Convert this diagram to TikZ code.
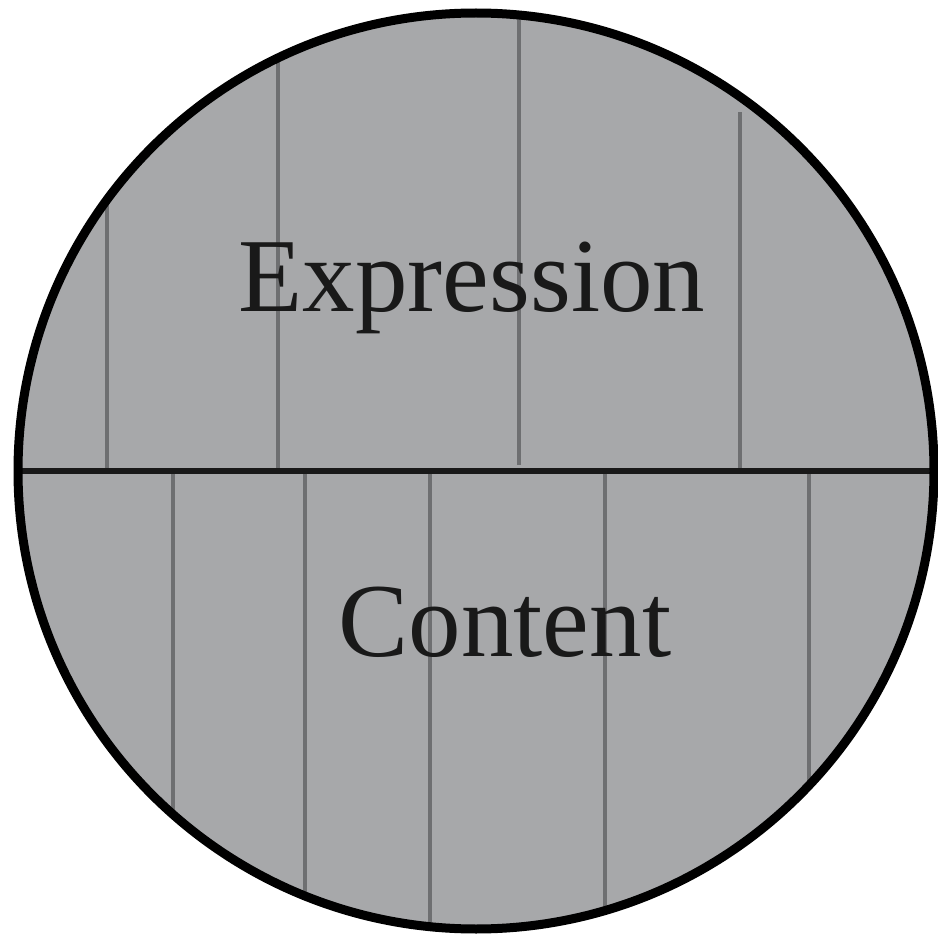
\documentclass[tikz,border=0pt]{standalone}
\usepackage{fontspec}
\setmainfont{Liberation Serif}
\definecolor{discfill}{HTML}{A7A8AA}
\definecolor{divline}{HTML}{6E6F71}
\begin{document}
\begin{tikzpicture}[x=1pt,y=-1pt,
  rim/.style={line width=9pt,draw=black},
  divider/.style={line width=3.5pt,draw=divline},
  midline/.style={line width=6pt,draw=black!90},
  lbl/.style={font=\fontsize{105}{112}\selectfont,text=black!90,inner sep=0pt,anchor=base}]
\useasboundingbox (0,0) rectangle (938,936);
\coordinate (c) at (476,471);
\fill[discfill] (c) circle (458);
\begin{scope}
  \clip (c) circle (458);
  % upper dividers
  \draw[divider] (107,471) -- (107,0);
  \draw[divider] (278,471) -- (278,0);
  \draw[divider] (519,465) -- (519,0);
  \draw[divider] (740,471) -- (740,112);
  % lower dividers
  \draw[divider] (173,471) -- (173,936);
  \draw[divider] (305,471) -- (305,936);
  \draw[divider] (430,471) -- (430,936);
  \draw[divider] (605,471) -- (605,936);
  \draw[divider] (809,471) -- (809,936);
\end{scope}
\coordinate (ml) at (14,471);
\coordinate (mr) at (938,471);
\draw[midline] (ml) -- (mr);
\draw[rim] (c) circle (458);
\node[lbl] (expr) at (472,312) {Expression};
\node[lbl] (cont) at (505,656) {Content};
\end{tikzpicture}
\end{document}
